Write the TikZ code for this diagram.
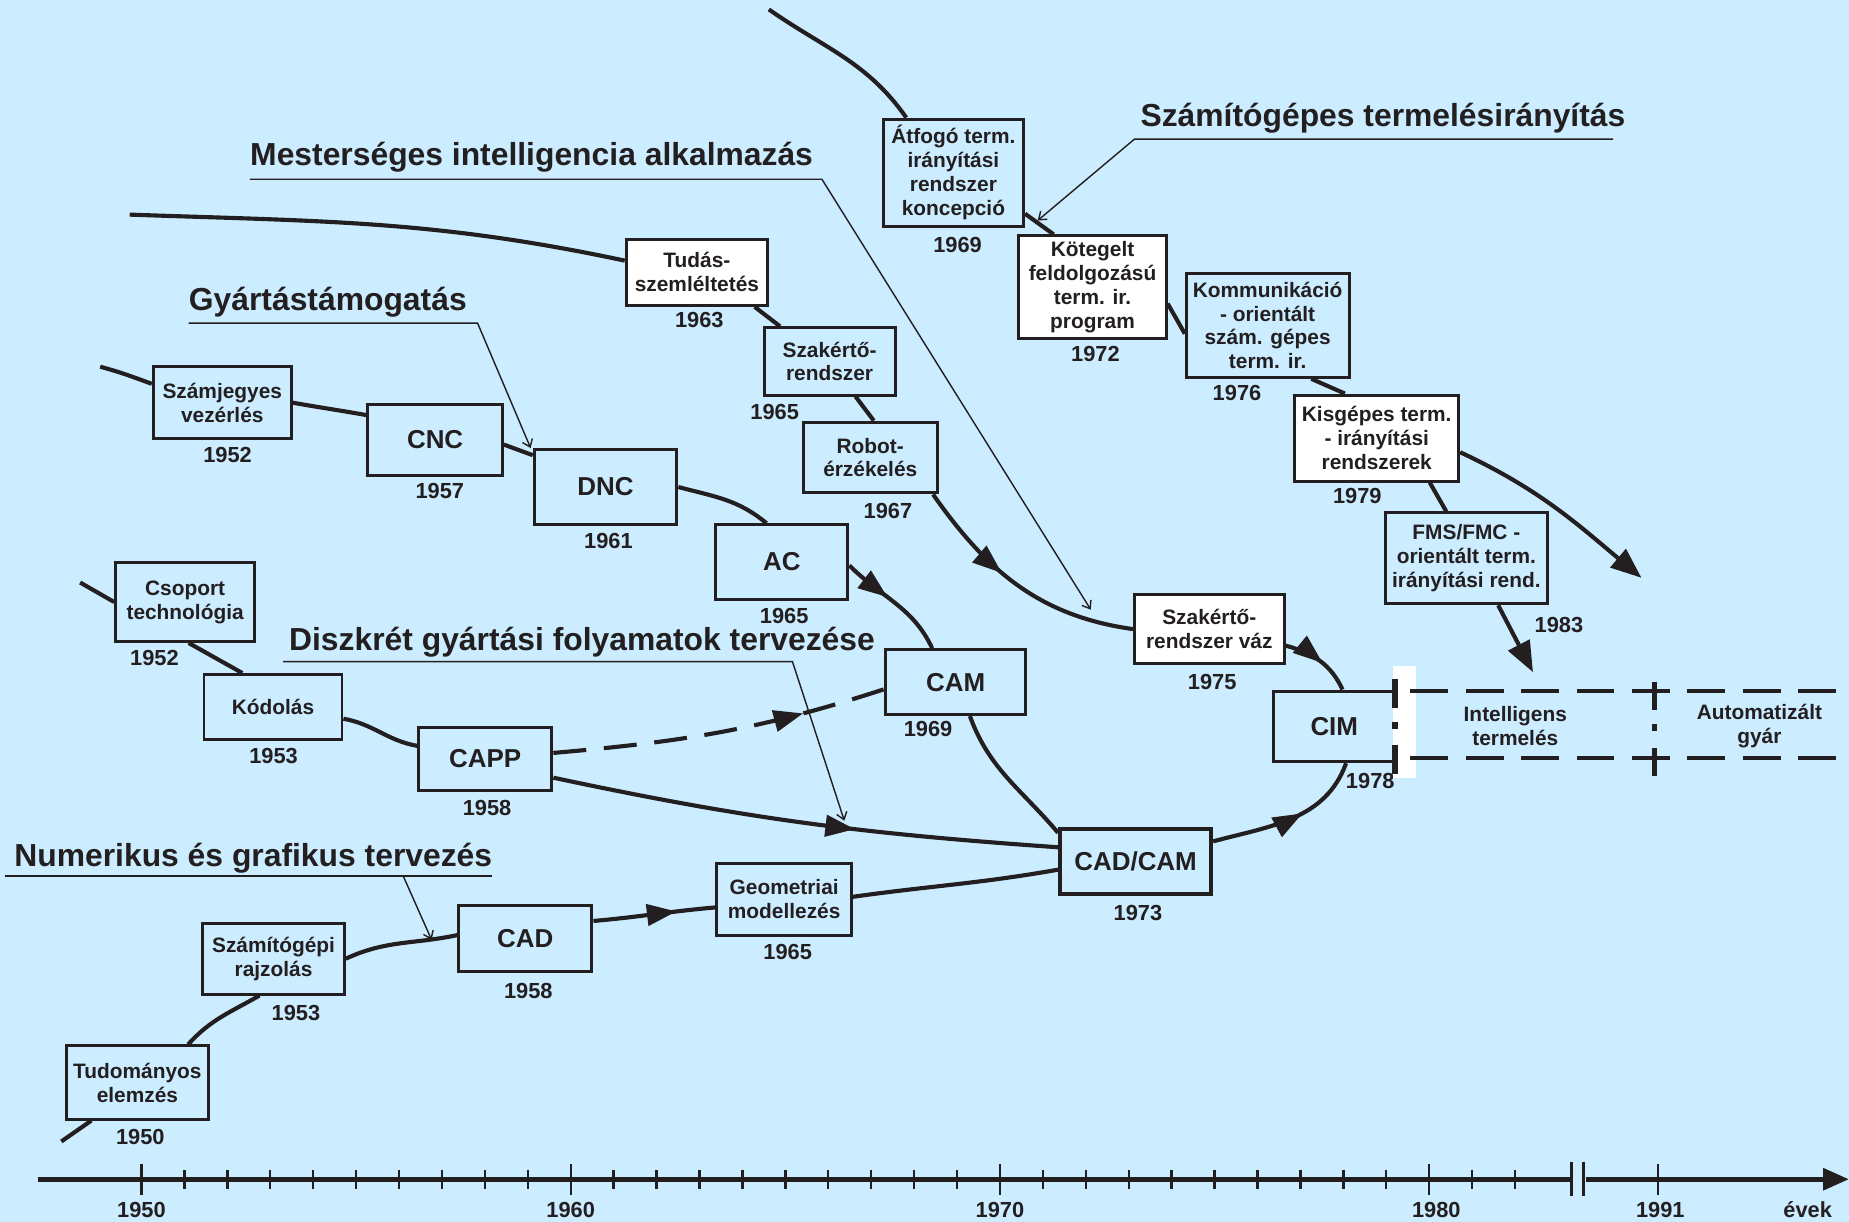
\documentclass[tikz,border=0pt]{standalone}
\usepackage{fontspec}
\setmainfont{Liberation Sans}
\usetikzlibrary{arrows.meta,decorations.markings}
\definecolor{bgblue}{RGB}{204,236,255}
\definecolor{ink}{RGB}{35,31,32}

\begin{document}
\begin{tikzpicture}[x=1pt,y=-1pt,
	tbox/.style={draw=ink,fill=bgblue,line width=2.5pt,align=center,inner sep=2pt,text=ink,font=\bfseries\fontsize{17.7}{20.3}\selectfont},
	wbox/.style={tbox,fill=white},
	bigbox/.style={tbox,font=\bfseries\fontsize{22}{26}\selectfont},
	yr/.style={inner sep=0,text=ink,font=\bfseries\fontsize{18.5}{20}\selectfont},
	head/.style={anchor=base west,inner sep=0,text=ink,font=\bfseries\fontsize{27}{32}\selectfont},
	flow/.style={draw=ink,line width=3.5pt},
	midarr/.style={postaction={decorate},decoration={markings,mark=at position #1 with {\arrow{Triangle[length=25pt,width=18pt]}}}},
	endarr/.style={-{Triangle[length=26pt,width=20pt]}},
	lead/.style={draw=ink,line width=1.2pt,-{Straight Barb[length=6pt,width=9pt]}},
	ext/.style={draw=ink,line width=3pt,dash pattern=on 32pt off 15pt},
	divider/.style={draw=ink,line width=5pt,dash pattern=on 24pt off 12pt on 6pt off 14pt on 24pt off 20pt},
	tick/.style={draw=ink,line width=2pt}]

	\useasboundingbox (0,0) rectangle (1568,1036);
	\fill[bgblue] (0,0) rectangle (1568,1036);

	% headings
	\node[head] (hcim) at (967,107) {Számítógépes termelésirányítás};
	\node[head] (hmi) at (212,140) {Mesterséges intelligencia alkalmazás};
	\node[head] (hgy) at (160,263) {Gyártástámogatás};
	\node[head] (hdi) at (245,552) {Diszkrét gyártási folyamatok tervezése};
	\node[head] (hnu) at (12,735) {Numerikus és grafikus tervezés};

	% numerikus es grafikus tervezes
	\node[tbox, minimum width=121, minimum height=62] (tud) at (116.5,918) {Tudományos\\elemzés};
	\node[tbox, minimum width=120, minimum height=60] (szr) at (232,813) {Számítógépi\\rajzolás};
	\node[bigbox, minimum width=113, minimum height=56] (cad) at (445.5,796) {CAD};
	\node[tbox, minimum width=114, minimum height=61] (geo) at (665,762.5) {Geometriai\\modellezés};
	\node[bigbox, line width=3.5pt, minimum width=128, minimum height=55] (cadcam) at (963,730.5) {CAD/CAM};
	\node[bigbox, minimum width=103, minimum height=60] (cim) at (1131.5,616) {CIM};

	% gyartastamogatas
	\node[tbox, minimum width=117, minimum height=61] (szj) at (188.5,341.5) {Számjegyes\\vezérlés};
	\node[bigbox, minimum width=114, minimum height=60] (cnc) at (369,373) {CNC};
	\node[bigbox, minimum width=121, minimum height=64] (dnc) at (513.5,413) {DNC};
	\node[bigbox, minimum width=112, minimum height=63] (ac) at (663,476.5) {AC};
	\node[bigbox, minimum width=119, minimum height=55] (cam) at (810.5,578.5) {CAM};

	% diszkret gyartasi folyamatok
	\node[tbox, minimum width=118, minimum height=67] (csp) at (157,510.5) {Csoport\\technológia};
	\node[tbox, minimum width=117, minimum height=55] (kod) at (231.5,599.5) {Kódolás};
	\node[bigbox, minimum width=113, minimum height=53] (capp) at (411.5,643.5) {CAPP};

	% mesterseges intelligencia
	\node[wbox, minimum width=120, minimum height=56] (tuds) at (591,231) {Tudás-\\szemléltetés};
	\node[tbox, minimum width=111, minimum height=57] (szak) at (703.5,306.5) {Szakértő-\\rendszer};
	\node[tbox, minimum width=114, minimum height=60] (rob) at (738,388) {Robot-\\érzékelés};
	\node[wbox, minimum width=127, minimum height=59] (vaz) at (1025.5,533.5) {Szakértő-\\rendszer váz};

	% szamitogepes termelesiranyitas
	\node[tbox, minimum width=119, minimum height=91] (atf) at (808.5,146.5) {Átfogó term.\\irányítási\\rendszer\\koncepció};
	\node[wbox, minimum width=125, minimum height=87] (kot) at (926.5,243.5) {Kötegelt\\feldolgozású\\term. ir.\\program};
	\node[tbox, minimum width=138, minimum height=88] (kom) at (1075,276) {Kommunikáció\\- orientált\\szám. gépes\\term. ir.};
	\node[wbox, minimum width=139, minimum height=73] (kis) at (1167.5,371.5) {Kisgépes term.\\- irányítási\\rendszerek};
	\node[tbox, minimum width=137, minimum height=77] (fms) at (1243.5,473.5) {FMS/FMC -\\orientált term.\\irányítási rend.};

	% years
	\node[yr] (y1) at (119,964) {1950};
	\node[yr] (y2) at (251,859) {1953};
	\node[yr] (y3) at (448,840) {1958};
	\node[yr] (y4) at (668,807) {1965};
	\node[yr] (y5) at (965,774) {1973};
	\node[yr] (y6) at (1162,662) {1978};
	\node[yr] (y7) at (193,386) {1952};
	\node[yr] (y8) at (373,416) {1957};
	\node[yr] (y9) at (516,459) {1961};
	\node[yr] (y10) at (665,522) {1965};
	\node[yr] (y11) at (787,618) {1969};
	\node[yr] (y12) at (131,558) {1952};
	\node[yr] (y13) at (232,641) {1953};
	\node[yr] (y14) at (413,685) {1958};
	\node[yr] (y15) at (593,271) {1963};
	\node[yr] (y16) at (657,349) {1965};
	\node[yr] (y17) at (753,433) {1967};
	\node[yr] (y18) at (1028,578) {1975};
	\node[yr] (y19) at (812,208) {1969};
	\node[yr] (y20) at (929,300) {1972};
	\node[yr] (y21) at (1049,333) {1976};
	\node[yr] (y22) at (1151,421) {1979};
	\node[yr] (y23) at (1322,530) {1983};

	\coordinate (n0) at (52,968);
	\coordinate (g0) at (85,311);
	\coordinate (d0) at (68,494);
	\coordinate (a0) at (110,182);
	\coordinate (c0) at (652,8);
	\coordinate (c1) at (1392,490);
	\coordinate (c2) at (1300,570);

	\draw[flow] (n0) -- ([xshift=-39]tud.south);
	\draw[flow] ([xshift=43]tud.north) to[out=48,in=-150] ([xshift=-12]szr.south);
	\draw[flow] (szr.east) to[out=25,in=192] ([yshift=3]cad.west);
	\draw[flow,midarr=0.68] ([yshift=15]cad.east) to[out=5,in=185] ([yshift=-7]geo.west);
	\draw[flow] ([yshift=2]geo.east) to[out=8,in=190] ([yshift=-7]cadcam.west);
	\draw[flow,midarr=0.58] ([yshift=17]cadcam.east) to[out=15,in=-110] ([xshift=10]cim.south);

	\draw[flow] (g0) to[out=-15,in=160] ([yshift=16]szj.west);
	\draw[flow] (szj.east) to[out=-10,in=170] ([yshift=21]cnc.west);
	\draw[flow] ([yshift=-4]cnc.east) -- ([yshift=27]dnc.west);
	\draw[flow] (dnc.east) to[out=-15,in=140] ([xshift=-13]ac.north);
	\draw[flow,midarr=0.42] ([yshift=-3]ac.east) to[out=-45,in=115] ([xshift=-20]cam.north);
	\draw[flow] ([xshift=12]cam.south) to[out=-70,in=130] ([yshift=-5]cadcam.north west);

	\draw[flow] (d0) -- (csp.west);
	\draw[flow] ([xshift=3]csp.south) -- ([xshift=-26]kod.north);
	\draw[flow] ([yshift=-10]kod.east) to[out=-10,in=170] ([yshift=11]capp.west);
	\draw[flow,dash pattern=on 28pt off 15pt,midarr=0.75] ([yshift=5]capp.east) to[out=5,in=198] ([yshift=-6]cam.west);
	\draw[flow,midarr=0.6] ([yshift=-16]capp.east) to[out=-12,in=176] ([yshift=12]cadcam.west);

	\draw[flow] (a0) to[out=-2,in=168] ([yshift=10]tuds.west);
	\draw[flow] ([xshift=49]tuds.south) -- ([xshift=-42]szak.north);
	\draw[flow] ([xshift=22]szak.south) -- ([xshift=3]rob.north);
	\draw[flow,midarr=0.42] ([xshift=-5]rob.south east) to[out=-55,in=172] (vaz.west);
	\draw[flow,midarr=0.55] ([yshift=-14]vaz.east) to[out=-15,in=115] ([xshift=7]cim.north);

	\draw[flow] (c0) to[out=-35,in=125] ([xshift=-40]atf.north);
	\draw[flow] ([yshift=12]atf.south east) -- ([xshift=-33]kot.north);
	\draw[flow] ([yshift=-14]kot.east) -- ([yshift=-7]kom.west);
	\draw[flow] ([xshift=37]kom.south) -- ([xshift=-27]kis.north);
	\draw[flow,endarr] ([yshift=-12]kis.east) to[out=-25,in=140] (c1);
	\draw[flow] ([xshift=45]kis.south) -- ([xshift=-17]fms.north);
	\draw[flow,endarr] ([xshift=27]fms.south) -- (c2);

	% leaders
	\coordinate (l1a) at (1368,118); \coordinate (l1b) at (962,118); \coordinate (l1c) at (880,187);
	\coordinate (l2a) at (212,152); \coordinate (l2b) at (697,152); \coordinate (l2c) at (925,517);
	\coordinate (l3a) at (160,274); \coordinate (l3b) at (405,274); \coordinate (l3c) at (450,380);
	\coordinate (l4a) at (240,561); \coordinate (l4b) at (672,561); \coordinate (l4c) at (716,696);
	\coordinate (l5a) at (4,743); \coordinate (l5b) at (417,743); \coordinate (l5s) at (342,743); \coordinate (l5c) at (366,797);
	\draw[lead] (l1a) -- (l1b) -- (l1c);
	\draw[lead] (l2a) -- (l2b) -- (l2c);
	\draw[lead] (l3a) -- (l3b) -- (l3c);
	\draw[lead] (l4a) -- (l4b) -- (l4c);
	\draw[draw=ink,line width=1.2pt] (l5a) -- (l5b);
	\draw[lead] (l5s) -- (l5c);

	% CIM extension
	\fill[white] (1181,565) rectangle (1201,660);
	\draw[ext] (1196,586) -- (1558,586);
	\draw[ext] (1196,643) -- (1558,643);
	\draw[divider] (1183,576) -- (1183,656);
	\draw[divider] (1403,578) -- (1403,658);
	\node[tbox, draw=none, fill=none] (intel) at (1285,616) {Intelligens\\termelés};
	\node[tbox, draw=none, fill=none] (autom) at (1492,616) {Automatizált\\gyár};

	% time axis
	\draw[draw=ink,line width=4.5pt] (32,1000) -- (1331,1000);
	\draw[draw=ink,line width=4.5pt,-{Triangle[length=22pt,width=18pt]}] (1345,1000) -- (1568,1000);
	\draw[tick,line width=2.5pt] (1333,985) -- (1333,1014);
	\draw[tick,line width=2.5pt] (1343,985) -- (1343,1014);
	\foreach \k in {0,...,32}
		\draw[tick] ({120+36.4*\k},992) -- ({120+36.4*\k},1008);
	\foreach \tx in {120,484,848,1212,1406}
		\draw[tick] (\tx,987) -- (\tx,1013);
	\node[yr] (t1950) at (120,1026) {1950};
	\node[yr] (t1960) at (484,1026) {1960};
	\node[yr] (t1970) at (848,1026) {1970};
	\node[yr] (t1980) at (1218,1026) {1980};
	\node[yr] (t1991) at (1408,1026) {1991};
	\node[yr] (tevek) at (1533,1026) {évek};

\end{tikzpicture}
\end{document}
